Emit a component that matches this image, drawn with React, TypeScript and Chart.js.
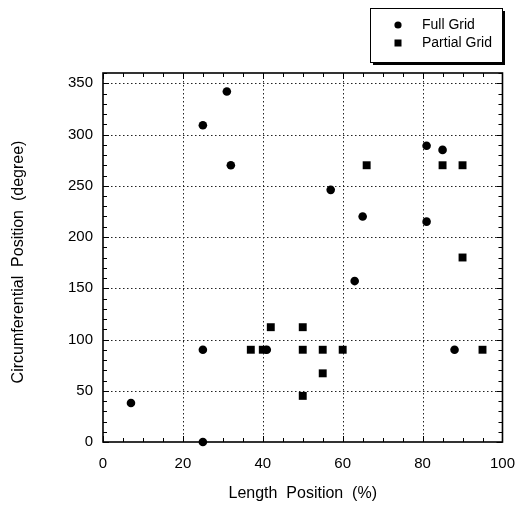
import { useEffect, useRef } from 'react';
import { Chart, registerables } from 'chart.js';

Chart.register(...registerables);

// ---- data ----
const fullGridX = [7, 25, 25, 25, 31, 32, 41, 57, 63, 65, 81, 81, 85, 88];
const fullGridY = [38, 0, 90, 309, 342, 270, 90, 246, 157, 220, 289, 215, 285, 90];
const partialGridX = [37, 40, 42, 50, 50, 50, 55, 55, 60, 66, 85, 90, 90, 95];
const partialGridY = [90, 90, 112, 112, 90, 45, 90, 67, 90, 270, 270, 270, 180, 90];

const xTickValues = [0, 20, 40, 60, 80, 100];
const yTickValues = [0, 50, 100, 150, 200, 250, 300, 350];
const xMinorStep = 5;
const yMinorStep = 10;

const seriesNames = ['Full Grid', 'Partial Grid'];
const xTitle = 'Length  Position  (%)';
const yTitle = 'Circumferential  Position  (degree)';

const FONT = '"Liberation Sans", Arial, sans-serif';

export default function App() {
  const ref = useRef<HTMLCanvasElement>(null);

  useEffect(() => {
    document.body.style.margin = '0';
    const canvas = ref.current;
    if (!canvas) return;

    const decor = {
      id: 'decor',
      beforeDatasetsDraw(chart: any) {
        const { ctx, chartArea: a, scales } = chart;
        const x = scales.x;
        const y = scales.y;
        ctx.save();
        // dotted grid lines
        ctx.strokeStyle = '#222';
        ctx.lineWidth = 1;
        ctx.setLineDash([1.5, 2.5]);
        ctx.beginPath();
        for (const v of xTickValues) {
          if (v === x.min || v === x.max) continue;
          const px = Math.round(x.getPixelForValue(v)) + 0.5;
          ctx.moveTo(px, a.top);
          ctx.lineTo(px, a.bottom);
        }
        for (const v of yTickValues) {
          if (v === y.min || v === y.max) continue;
          const py = Math.round(y.getPixelForValue(v)) + 0.5;
          ctx.moveTo(a.left, py);
          ctx.lineTo(a.right, py);
        }
        ctx.stroke();
        ctx.setLineDash([]);

        // inward minor ticks on all four sides
        ctx.strokeStyle = '#000';
        ctx.lineWidth = 1;
        ctx.beginPath();
        for (let v = x.min; v <= x.max; v += xMinorStep) {
          const px = Math.round(x.getPixelForValue(v)) + 0.5;
          const len = v % 20 === 0 ? 6 : 4;
          ctx.moveTo(px, a.bottom);
          ctx.lineTo(px, a.bottom - len);
          ctx.moveTo(px, a.top);
          ctx.lineTo(px, a.top + len);
        }
        for (let v = y.min; v <= y.max; v += yMinorStep) {
          const py = Math.round(y.getPixelForValue(v)) + 0.5;
          const len = v % 50 === 0 ? 6 : 4;
          ctx.moveTo(a.left, py);
          ctx.lineTo(a.left + len, py);
          ctx.moveTo(a.right, py);
          ctx.lineTo(a.right - len, py);
        }
        ctx.stroke();

        // frame
        ctx.lineWidth = 1.6;
        ctx.strokeRect(a.left, a.top, a.right - a.left, a.bottom - a.top);
        ctx.restore();
      },
      afterDraw(chart: any) {
        const { ctx, chartArea: a } = chart;
        ctx.save();
        ctx.fillStyle = '#000';
        // axis titles
        ctx.font = `16px ${FONT}`;
        ctx.textAlign = 'center';
        ctx.textBaseline = 'middle';
        ctx.fillText(xTitle, (a.left + a.right) / 2, 494);
        ctx.translate(19, 262);
        ctx.rotate(-Math.PI / 2);
        ctx.fillText(yTitle, 0, 0);
        ctx.restore();

        // legend box
        ctx.save();
        const bx = 370, by = 8, bw = 132, bh = 54;
        ctx.fillStyle = '#fff';
        ctx.fillRect(bx, by, bw, bh);
        ctx.fillStyle = '#000';
        ctx.fillRect(bx + 3, by + bh, bw, 3);
        ctx.fillRect(bx + bw, by + 3, 3, bh);
        ctx.strokeStyle = '#000';
        ctx.lineWidth = 1;
        ctx.strokeRect(bx + 0.5, by + 0.5, bw, bh);
        // markers
        ctx.beginPath();
        ctx.arc(398, 25, 3.6, 0, Math.PI * 2);
        ctx.fill();
        ctx.fillRect(394.5, 39.5, 7, 7);
        ctx.font = `14px ${FONT}`;
        ctx.textAlign = 'left';
        ctx.textBaseline = 'middle';
        ctx.fillText(seriesNames[0], 422, 25);
        ctx.fillText(seriesNames[1], 422, 43);
        ctx.restore();
      },
    };

    const chart = new Chart(canvas, {
      type: 'scatter',
      data: {
        datasets: [
          {
            label: seriesNames[0],
            data: fullGridX.map((v, i) => ({ x: v, y: fullGridY[i] })),
            pointStyle: 'circle',
            pointRadius: 4.3,
            backgroundColor: '#000',
            borderColor: '#000',
            borderWidth: 0,
            clip: false as any,
          },
          {
            label: seriesNames[1],
            data: partialGridX.map((v, i) => ({ x: v, y: partialGridY[i] })),
            pointStyle: 'rect',
            pointRadius: 5.6,
            backgroundColor: '#000',
            borderColor: '#000',
            borderWidth: 0,
            clip: false as any,
          },
        ],
      },
      options: {
        responsive: false,
        animation: false,
        layout: { padding: { top: 73, right: 11, left: 0, bottom: 0 } },
        plugins: { legend: { display: false }, tooltip: { enabled: false } },
        scales: {
          x: {
            type: 'linear',
            min: 0,
            max: 100,
            afterFit: (s: any) => { s.height = 66; },
            afterBuildTicks: (s: any) => { s.ticks = xTickValues.map((v) => ({ value: v })); },
            grid: { display: false, drawTicks: false },
            border: { display: false },
            ticks: { color: '#000', padding: 13, font: { family: FONT, size: 15 } },
          },
          y: {
            type: 'linear',
            min: 0,
            max: 360,
            afterFit: (s: any) => { s.width = 103; },
            afterBuildTicks: (s: any) => { s.ticks = yTickValues.map((v) => ({ value: v })); },
            grid: { display: false, drawTicks: false },
            border: { display: false },
            ticks: { color: '#000', padding: 10, font: { family: FONT, size: 15 } },
          },
        },
      },
      plugins: [decor],
    });

    return () => chart.destroy();
  }, []);

  return (
    <canvas
      ref={ref}
      width={528}
      height={508}
      style={{ display: 'block', width: 528, height: 508, background: '#fff' }}
    />
  );
}
